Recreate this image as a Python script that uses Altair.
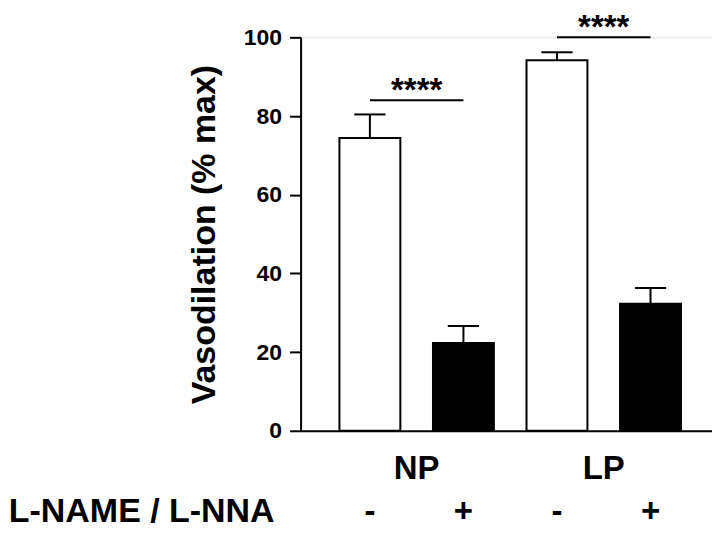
import altair as alt
import pandas as pd

# ---- data ----
groups = ["NP", "NP", "LP", "LP"]
treatment = ["-", "+", "-", "+"]
means = [74.4, 22.3, 94.2, 32.3]
sems = [6.0, 4.3, 2.0, 4.0]
fills = ["white", "black", "white", "black"]

sig_from = [1, 3]
sig_to = [2, 4]
sig_y = [84.0, 100.0]
sig_label = ["****", "****"]

group_names = ["NP", "LP"]
group_pos = [1.5, 3.5]

y_ticks = [0, 20, 40, 60, 80, 100]
row_label = "L-NAME / L-NNA"

FONT = "Liberation Sans"
W, H = 412, 394

bars = pd.DataFrame({
    "pos": list(range(1, len(means) + 1)),
    "group": groups,
    "treat": treatment,
    "mean": means,
    "sem": sems,
    "fill": fills,
})
bars["top"] = bars["mean"] + bars["sem"]
bars["capL"] = bars["pos"] - 0.167
bars["capR"] = bars["pos"] + 0.167

sig = pd.DataFrame({"x1": sig_from, "x2": sig_to, "y": sig_y, "label": sig_label})
sig["mid"] = (sig["x1"] + sig["x2"]) / 2
grp = pd.DataFrame({"pos": group_pos, "name": group_names})
row = pd.DataFrame({"label": [row_label]})

xscale = alt.Scale(domain=[0.3125, 4.604], nice=False, zero=False)
yscale = alt.Scale(domain=[0, 100], nice=False)

xaxis = alt.Axis(labels=False, ticks=False, grid=False, title=None,
                 domainColor="black", domainWidth=2)
yaxis = alt.Axis(values=y_ticks, grid=False, title="Vasodilation (% max)",
                 domainColor="black", domainWidth=2, tickColor="black",
                 tickWidth=2, tickSize=11, labelFont=FONT, labelFontSize=23,
                 labelFontWeight="bold", labelColor="black", labelPadding=8,
                 titleFont=FONT, titleFontSize=34, titleFontWeight="bold",
                 titleColor="black", titlePadding=22)

base = alt.Chart(bars)

bar_layer = base.mark_bar(stroke="black", strokeWidth=2, size=61).encode(
    x=alt.X("pos:Q", scale=xscale, axis=xaxis),
    y=alt.Y("mean:Q", scale=yscale, axis=yaxis),
    fill=alt.Fill("fill:N", scale=None),
)

err_v = base.mark_rule(color="black", strokeWidth=2).encode(
    x="pos:Q", y="mean:Q", y2="top:Q")
err_cap = base.mark_rule(color="black", strokeWidth=2).encode(
    x="capL:Q", x2="capR:Q", y="top:Q")

sig_line = alt.Chart(sig).mark_rule(color="black", strokeWidth=2).encode(
    x="x1:Q", x2="x2:Q", y="y:Q")
sig_text = alt.Chart(sig).mark_text(font=FONT, fontSize=33, fontWeight="bold",
                                    baseline="alphabetic", dy=1, color="black").encode(
    x="mid:Q", y="y:Q", text="label:N")

grp_text = alt.Chart(grp).mark_text(font=FONT, fontSize=33, fontWeight="bold",
                                    baseline="alphabetic", color="black").encode(
    x="pos:Q", y=alt.value(H + 48), text="name:N")

treat_text = base.mark_text(font=FONT, fontSize=33, fontWeight="bold",
                            baseline="alphabetic", color="black").encode(
    x="pos:Q", y=alt.value(H + 91), text="treat:N")

row_text = alt.Chart(row).mark_text(font=FONT, fontSize=34, fontWeight="bold",
                                    baseline="alphabetic", align="right",
                                    color="black").encode(
    x=alt.value(-26), y=alt.value(H + 91), text="label:N")

chart = alt.layer(bar_layer, err_v, err_cap, sig_line, sig_text,
                  grp_text, treat_text, row_text).properties(
    width=W, height=H,
    padding={"left": 0, "top": 4, "right": 0, "bottom": 0},
).configure_view(stroke=None).configure(background="white")

chart.save("out.html", embed_options={"renderer": "svg", "actions": False})
